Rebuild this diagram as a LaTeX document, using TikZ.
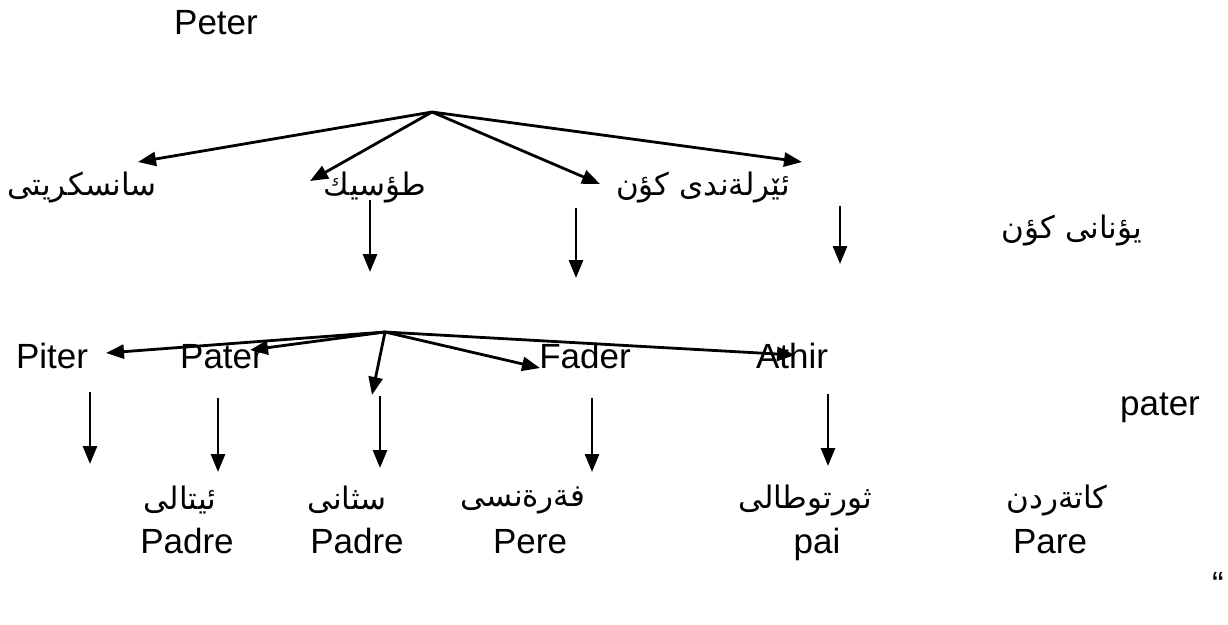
\documentclass[tikz,border=0pt]{standalone}
\usepackage{fontspec}
\setmainfont{Liberation Sans}
\newfontfamily\arabicfont[Script=Arabic]{DejaVu Sans}
\TeXXeTstate=1
\usetikzlibrary{arrows.meta}
\tikzset{
  lat/.style={font=\fontsize{35}{40}\selectfont, inner sep=0pt},
  latb/.style={lat, anchor=base},
  ar/.style={font=\arabicfont\fontsize{31}{36}\selectfont, inner sep=0pt},
  arr/.style={line width=2.8pt, -{Triangle[length=18pt,width=14pt]}},
}
\begin{document}
\begin{tikzpicture}[x=1pt,y=-1pt]
\useasboundingbox (0,0) rectangle (1228,624);
% top
\node[lat] (peter) at (216,23) {Peter};
\coordinate (hubA) at (432,112);
\coordinate (tA1) at (138,162);
\coordinate (tA2) at (310,181);
\coordinate (tA3) at (600,184);
\coordinate (tA4) at (802,162);
\draw[arr] (hubA) -- (tA1);
\draw[arr] (hubA) -- (tA2);
\draw[arr] (hubA) -- (tA3);
\draw[arr] (hubA) -- (tA4);
% row 1 labels
\node[ar] (skt) at (82,188) {\beginR سانسكريتى\endR};
\node[ar] (tos) at (375,188) {\beginR طؤسيك\endR};
\node[ar] (iri) at (703,188) {\beginR ئێرلةندى كؤن\endR};
\node[ar] (grk) at (1072,231) {\beginR يؤنانى كؤن\endR};
% vertical arrows row 1
\coordinate (vA1s) at (370,200); \coordinate (vA1e) at (370,272);
\coordinate (vA2s) at (576,208); \coordinate (vA2e) at (576,278);
\coordinate (vA3s) at (840,206); \coordinate (vA3e) at (840,264);
\draw[arr] (vA1s) -- (vA1e);
\draw[arr] (vA2s) -- (vA2e);
\draw[arr] (vA3s) -- (vA3e);
% second hub
\coordinate (hubB) at (385,332);
\coordinate (tB1) at (106,353);
\coordinate (tB2) at (250,350);
\coordinate (tB3) at (372,395);
\coordinate (tB4) at (540,368);
\coordinate (tB5) at (795,355);
% row 2 labels
\node[latb] (piter) at (52,368) {Piter};
\node[latb] (pater) at (222,368) {Pater};
\node[latb] (fader) at (585,368) {Fader};
\node[latb] (athir) at (792,368) {Athir};
\node[latb] (paterl) at (1160,415) {pater};
\draw[arr] (hubB) -- (tB1);
\draw[arr] (hubB) -- (tB2);
\draw[arr] (hubB) -- (tB3);
\draw[arr] (hubB) -- (tB4);
\draw[arr] (hubB) -- (tB5);
% vertical arrows row 2
\coordinate (vB1s) at (90,392);  \coordinate (vB1e) at (90,464);
\coordinate (vB2s) at (218,398); \coordinate (vB2e) at (218,472);
\coordinate (vB3s) at (380,396); \coordinate (vB3e) at (380,468);
\coordinate (vB4s) at (592,398); \coordinate (vB4e) at (592,472);
\coordinate (vB5s) at (828,394); \coordinate (vB5e) at (828,466);
\draw[arr] (vB1s) -- (vB1e);
\draw[arr] (vB2s) -- (vB2e);
\draw[arr] (vB3s) -- (vB3e);
\draw[arr] (vB4s) -- (vB4e);
\draw[arr] (vB5s) -- (vB5e);
% bottom Arabic row
\node[ar] (ita) at (180,500) {\beginR ئيتالى\endR};
\node[ar] (spa) at (347,500) {\beginR سثانى\endR};
\node[ar] (fra) at (523,500) {\beginR فةرةنسى\endR};
\node[ar] (por) at (805,500) {\beginR ثورتوطالى\endR};
\node[ar] (cat) at (1057,500) {\beginR كاتةردن\endR};
% bottom Latin row
\node[latb] (padA) at (187,553) {Padre};
\node[latb] (padB) at (357,553) {Padre};
\node[latb] (pere) at (530,553) {Pere};
\node[latb] (pai) at (817,553) {pai};
\node[latb] (pare) at (1050,553) {Pare};
\node[lat] (quote) at (1218,584) {“};
\end{tikzpicture}
\end{document}
